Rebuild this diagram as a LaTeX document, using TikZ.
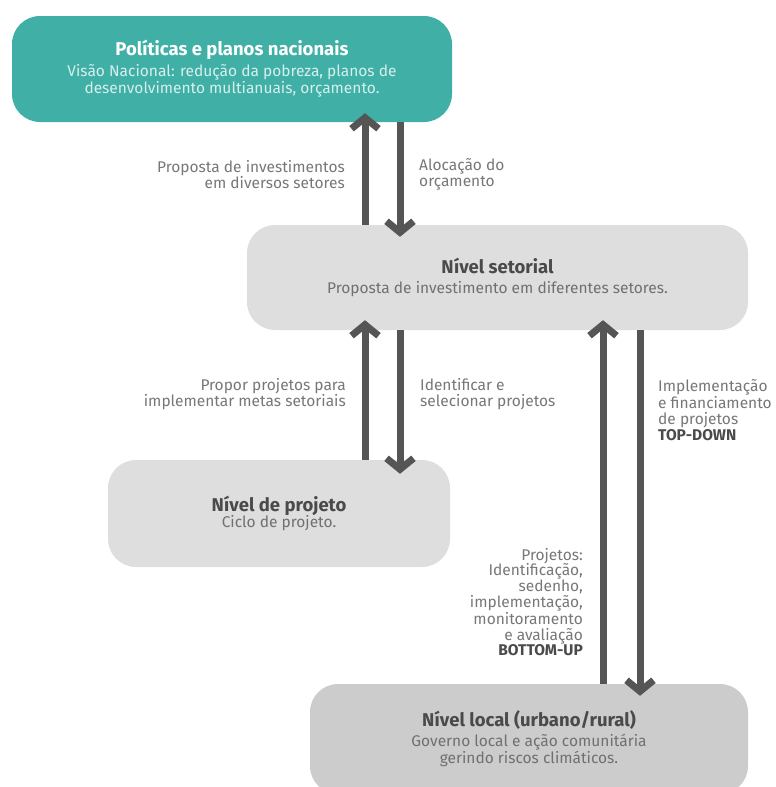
\documentclass[tikz,border=0pt]{standalone}
\usepackage{fontspec}
\setmainfont{Fira Sans}
\usetikzlibrary{arrows.meta}

\definecolor{tealbox}{HTML}{40AFA6}
\definecolor{tealsub}{HTML}{D6EFEC}
\definecolor{greybox}{HTML}{DEDEDE}
\definecolor{localbox}{HTML}{CCCCCC}
\definecolor{arrowgrey}{HTML}{555555}
\definecolor{titlegrey}{HTML}{4A4A4A}
\definecolor{subgrey}{HTML}{707070}
\definecolor{labelgrey}{HTML}{777777}

\begin{document}
\begin{tikzpicture}[x=1pt, y=1pt,
  box/.style={rectangle, rounded corners=28pt, align=center, inner sep=0pt,
    font=\fontsize{15.5}{17.5}\selectfont},
  flow/.style={draw=arrowgrey, line width=7pt,
    -{Straight Barb[length=11pt, width=27pt, sharp]}},
  label/.style={text=labelgrey, inner sep=0pt, font=\fontsize{15.5}{15.8}\selectfont}]
\useasboundingbox (0,0) rectangle (776,-787);

% boxes
\node[box, fill=tealbox, text=tealsub, minimum width=440pt, minimum height=106pt] (nacional) at (232,-69)
  {{\color{white}\fontsize{18.5}{22}\selectfont\bfseries Políticas e planos nacionais}\\[3pt]
   Visão Nacional: redução da pobreza, planos de\\ desenvolvimento multianuais, orçamento.};
\node[box, fill=greybox, text=subgrey, minimum width=501pt, minimum height=105pt] (setorial) at (497.5,-277.5)
  {{\color{titlegrey}\fontsize{18.5}{21}\selectfont\bfseries Nível setorial}\\[3pt]
   Proposta de investimento em diferentes setores.};
\node[box, fill=greybox, text=subgrey, minimum width=342pt, minimum height=107pt] (projeto) at (279,-513.5)
  {{\color{titlegrey}\fontsize{18.5}{16}\selectfont\bfseries Nível de projeto}\\[-2pt]
   Ciclo de projeto.};
\node[box, fill=localbox, text=subgrey, minimum width=438pt, minimum height=110pt] (local) at (529,-739)
  {{\color{titlegrey}\fontsize{18.5}{21}\selectfont\bfseries Nível local (urbano/rural)}\\[2pt]
   Governo local e ação comunitária\\ gerindo riscos climáticos.};

% arrow columns
\coordinate (colA) at (365,0);
\coordinate (colB) at (400,0);
\coordinate (colC) at (603,0);
\coordinate (colD) at (640,0);

\draw[flow, shorten >=-9pt] (setorial.north -| colA) -- (nacional.south -| colA);
\draw[flow, shorten >=-12pt] (nacional.south -| colB) -- (setorial.north -| colB);
\draw[flow, shorten >=-10pt] (projeto.north -| colA) -- (setorial.south -| colA);
\draw[flow, shorten >=-14pt] (setorial.south -| colB) -- (projeto.north -| colB);
\draw[flow, shorten >=-10pt] (local.north -| colC) -- (setorial.south -| colC);
\draw[flow, shorten >=-12pt] (setorial.south -| colD) -- (local.north -| colD);

% labels
\node[label, anchor=east, align=right] (propinv) at (345,-174.5)
  {Proposta de investimentos\\ em diversos setores};
\node[label, anchor=west, align=left] (alocacao) at (419,-174.5)
  {Alocação do\\ orçamento};
\node[label, anchor=east, align=right] (propor) at (346,-394)
  {Propor projetos para\\ implementar metas setoriais};
\node[label, anchor=west, align=left] (identificar) at (420,-394)
  {Identificar e\\ selecionar projetos};
\node[label, anchor=west, align=left] (topdown) at (658,-410)
  {Implementação\\ e financiamento\\ de projetos\\ {\color{titlegrey}\bfseries TOP-DOWN}};
\node[label, anchor=east, align=right] (bottomup) at (583,-602)
  {Projetos:\\ Identificação,\\ sedenho,\\ implementação,\\ monitoramento\\ e avaliação\\ {\color{titlegrey}\bfseries BOTTOM-UP}};
\end{tikzpicture}
\end{document}
